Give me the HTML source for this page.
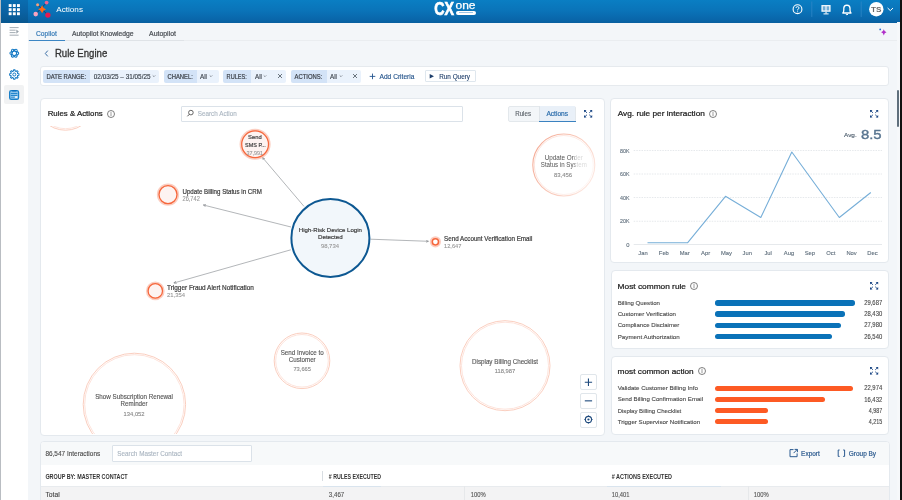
<!DOCTYPE html><html><head><meta charset="utf-8"><style>
html,body{margin:0;padding:0;}
body{width:902px;height:500px;overflow:hidden;position:relative;background:#f3f6f9;font-family:"Liberation Sans",sans-serif;color:#333;}
.r{position:absolute;box-sizing:border-box;}
svg{position:absolute;overflow:visible;}
</style></head><body>
<div class="r" style="left:0px;top:0px;width:902.00px;height:22.50px;background:linear-gradient(180deg,#0a7ec3 0%,#0a74b9 45%,#0966aa 85%,#085f9f 100%);"></div>
<div class="r" style="left:0px;top:0px;width:28.00px;height:22.50px;background:linear-gradient(180deg,#0a6db0 0%,#0a62a3 50%,#08578f 100%);"></div>
<svg style="left:0px;top:0px" width="28" height="22" viewBox="0 0 28 22"><rect x="8.70" y="4.10" width="2.9" height="2.9" fill="#fff"/><rect x="12.85" y="4.10" width="2.9" height="2.9" fill="#fff"/><rect x="17.00" y="4.10" width="2.9" height="2.9" fill="#fff"/><rect x="8.70" y="8.20" width="2.9" height="2.9" fill="#fff"/><rect x="12.85" y="8.20" width="2.9" height="2.9" fill="#fff"/><rect x="17.00" y="8.20" width="2.9" height="2.9" fill="#fff"/><rect x="8.70" y="12.30" width="2.9" height="2.9" fill="#fff"/><rect x="12.85" y="12.30" width="2.9" height="2.9" fill="#fff"/><rect x="17.00" y="12.30" width="2.9" height="2.9" fill="#fff"/></svg>
<svg style="left:28px;top:0px" width="30" height="22" viewBox="28 0 30 22"><g transform="translate(28,0)">
<line x1="9.6" y1="4.8" x2="19.9" y2="15.1" stroke="#1d3b6b" stroke-width="1"/>
<line x1="18.6" y1="2.6" x2="7.7" y2="14.1" stroke="#1d3b6b" stroke-width="1"/>
<circle cx="9.6" cy="4.8" r="1.5" fill="#f7a07a"/>
<circle cx="18.6" cy="2.6" r="1.9" fill="#f0648f"/>
<circle cx="7.7" cy="14.1" r="2.3" fill="#f7a3c0"/>
<circle cx="19.9" cy="15.1" r="2.7" fill="#e8194f"/>
<path d="M14.1 5.3 Q14.9 8.5 18.1 9.3 Q14.9 10.1 14.1 13.3 Q13.3 10.1 10.1 9.3 Q13.3 8.5 14.1 5.3Z" fill="#ff6a13"/></g></svg>
<div class="r" style="left:455.5px;top:10.5px;width:20.00px;height:4.70px;background:#fff;border-radius:2.4px;"></div>
<div class="r" style="left:458.5px;top:12.4px;width:14.00px;height:0.90px;background:#9cc4e4;"></div>
<svg style="left:780px;top:0px" width="122" height="22" viewBox="780 0 122 22"><g transform="translate(780,0)">
<circle cx="17.5" cy="9.2" r="4.4" fill="none" stroke="#fff" stroke-width="1.1"/>
<path d="M16 8 Q16 6.6 17.5 6.6 Q19 6.6 19 8 Q19 9 17.6 9.5 L17.6 10.4" fill="none" stroke="#fff" stroke-width="0.9"/>
<circle cx="17.6" cy="11.7" r="0.55" fill="#fff"/>
<line x1="31.8" y1="1.5" x2="31.8" y2="17" stroke="#2e88c8" stroke-width="0.8"/>
<rect x="41.4" y="5" width="9.2" height="6.8" fill="#fff" opacity="0.93"/>
<rect x="42.8" y="6.3" width="2.6" height="4.1" fill="#0a70b6" opacity="0.55"/>
<rect x="46.6" y="6.3" width="2.6" height="4.1" fill="#0a70b6" opacity="0.55"/>
<rect x="45.5" y="11.8" width="1.1" height="1.8" fill="#fff"/>
<rect x="43.5" y="13.4" width="5.1" height="1" fill="#fff"/>
<path d="M67 13 L62.8 13 Q63.8 12 63.8 10 L63.8 8.3 Q63.8 5.3 66.9 5.1 Q70 5.3 70 8.3 L70 10 Q70 12 71 13 Z" fill="none" stroke="#fff" stroke-width="1.3" stroke-linejoin="round"/>
<path d="M65.8 14.2 Q66.9 15.4 68 14.2" fill="none" stroke="#fff" stroke-width="1"/>
<line x1="81.2" y1="1.5" x2="81.2" y2="17" stroke="#2e88c8" stroke-width="0.8"/>
<circle cx="96.3" cy="9.2" r="7.2" fill="#fff"/>
<path d="M107.6 8 L110.3 10.6 L113 8" fill="none" stroke="#fff" stroke-width="1"/></g></svg>
<div class="r" style="left:0px;top:22.5px;width:28.00px;height:477.50px;background:#fff;"></div>
<div class="r" style="left:0px;top:0px;width:1.00px;height:500.00px;background:#b9bdc2;"></div>
<svg style="left:0px;top:22px" width="28" height="20" viewBox="0 22 28 20"><g transform="translate(0,22)" fill="#9aa3ab">
<rect x="9.6" y="5.2" width="9" height="0.9"/>
<rect x="9.6" y="7.7" width="6" height="0.9"/>
<rect x="9.6" y="10.2" width="6" height="0.9"/>
<rect x="9.6" y="12.7" width="9" height="0.9"/>
<path d="M16.3 7.5 L18.9 9.6 L16.3 11.7Z"/></g></svg>
<svg style="left:0px;top:43px" width="28" height="22" viewBox="0 43 28 22"><g transform="translate(14.3,53.2)" fill="none" stroke="#1479c4" stroke-width="1.05">
<ellipse rx="4.4" ry="2.0"/><ellipse rx="4.4" ry="2.0" transform="rotate(60)"/><ellipse rx="4.4" ry="2.0" transform="rotate(120)"/>
</g><circle cx="14.3" cy="53.2" r="1.5" fill="#fff"/></svg>
<svg style="left:0px;top:64px" width="28" height="22" viewBox="0 64 28 22"><g transform="translate(14.3,74.5)">
<path d="M3.37 -0.96 L4.65 -0.71 L4.65 0.71 L3.37 0.96 L3.06 1.71 L3.78 2.79 L2.79 3.78 L1.71 3.06 L0.96 3.37 L0.71 4.65 L-0.71 4.65 L-0.96 3.37 L-1.71 3.06 L-2.79 3.78 L-3.78 2.79 L-3.06 1.71 L-3.37 0.96 L-4.65 0.71 L-4.65 -0.71 L-3.37 -0.96 L-3.06 -1.71 L-3.78 -2.79 L-2.79 -3.78 L-1.71 -3.06 L-0.96 -3.37 L-0.71 -4.65 L0.71 -4.65 L0.96 -3.37 L1.71 -3.06 L2.79 -3.78 L3.78 -2.79 L3.06 -1.71Z" fill="none" stroke="#1479c4" stroke-width="1.05" stroke-linejoin="round"/>
<circle r="1.5" fill="none" stroke="#1479c4" stroke-width="1"/></g></svg>
<div class="r" style="left:3.9px;top:84.8px;width:19.80px;height:19.50px;background:#f1f2f3;border-radius:2px;"></div>
<svg style="left:0px;top:84px" width="28" height="22" viewBox="0 84 28 22">
<rect x="9.6" y="90.6" width="9.0" height="8.8" rx="1.6" fill="#8cc3ea" stroke="#1a80c9" stroke-width="1.2"/>
<rect x="12" y="89.9" width="4.6" height="1.5" rx="0.6" fill="#0b6fbf"/>
<rect x="10.8" y="93.1" width="6.6" height="0.9" fill="#1a80c9"/>
<rect x="10.8" y="95" width="6.6" height="0.9" fill="#1a80c9"/>
<rect x="10.8" y="96.9" width="3.8" height="0.9" fill="#4a9ad6"/>
<rect x="15.1" y="96.3" width="2.2" height="1.5" fill="#fff"/></svg>
<div class="r" style="left:28px;top:40.3px;width:872.00px;height:1.20px;background:#eaedf0;"></div>
<div class="r" style="left:28px;top:40.3px;width:156.00px;height:1.20px;background:#dfe3e7;"></div>
<div class="r" style="left:29px;top:40.2px;width:35.80px;height:1.30px;background:#3b86c4;"></div>
<svg style="left:870px;top:24px" width="20" height="16" viewBox="870 24 20 16"><circle cx="880.2" cy="29.4" r="0.9" fill="#2d6fd0"/>
<path d="M883.8 29.2 Q884.3 31.7 886.5 32.3 Q884.3 32.9 883.8 35.4 Q883.3 32.9 881.1 32.3 Q883.3 31.7 883.8 29.2Z" fill="#b02fc9"/></svg>
<svg style="left:42px;top:48px" width="10" height="12" viewBox="42 48 10 12"><path d="M47.8 50.6 L45.3 53.5 L47.8 56.4" fill="none" stroke="#3b6ea5" stroke-width="1"/></svg>
<div class="r" style="left:40px;top:66px;width:849.30px;height:19.60px;background:#fff;border:1px solid #e6eaee;border-radius:3px;"></div>
<div class="r" style="left:43.4px;top:70.1px;width:46.40px;height:12.60px;background:#d3e3f7;border-radius:2px 0 0 2px;"></div>
<div class="r" style="left:89.8px;top:70.1px;width:69.20px;height:12.60px;background:#eaf2fc;border-radius:0 2px 2px 0;"></div>
<svg style="left:152.4px;top:74px" width="6" height="5" viewBox="152.4 74 6 5"><path d="M153.1 75.4 L154.4 76.7 L155.70000000000002 75.4" fill="none" stroke="#6b737c" stroke-width="0.7"/></svg>
<div class="r" style="left:164px;top:70.1px;width:32.70px;height:12.60px;background:#d3e3f7;border-radius:2px 0 0 2px;"></div>
<div class="r" style="left:196.7px;top:70.1px;width:22.40px;height:12.60px;background:#eaf2fc;border-radius:0 2px 2px 0;"></div>
<svg style="left:208.8px;top:74px" width="6" height="5" viewBox="208.8 74 6 5"><path d="M209.5 75.4 L210.8 76.7 L212.10000000000002 75.4" fill="none" stroke="#6b737c" stroke-width="0.7"/></svg>
<div class="r" style="left:223.1px;top:70.1px;width:27.70px;height:12.60px;background:#d3e3f7;border-radius:2px 0 0 2px;"></div>
<div class="r" style="left:250.8px;top:70.1px;width:35.70px;height:12.60px;background:#eaf2fc;border-radius:0 2px 2px 0;"></div>
<svg style="left:263.3px;top:74px" width="6" height="5" viewBox="263.3 74 6 5"><path d="M264.0 75.4 L265.3 76.7 L266.6 75.4" fill="none" stroke="#6b737c" stroke-width="0.7"/></svg>
<svg style="left:277px;top:73.4px" width="6" height="6" viewBox="277 73.4 6 6"><path d="M278 74.4 L282 78.4 M282 74.4 L278 78.4" stroke="#4a5560" stroke-width="0.8"/></svg>
<div class="r" style="left:290.9px;top:70.1px;width:35.70px;height:12.60px;background:#d3e3f7;border-radius:2px 0 0 2px;"></div>
<div class="r" style="left:326.6px;top:70.1px;width:34.90px;height:12.60px;background:#eaf2fc;border-radius:0 2px 2px 0;"></div>
<svg style="left:338.6px;top:74px" width="6" height="5" viewBox="338.6 74 6 5"><path d="M339.3 75.4 L340.6 76.7 L341.90000000000003 75.4" fill="none" stroke="#6b737c" stroke-width="0.7"/></svg>
<svg style="left:352.3px;top:73.4px" width="6" height="6" viewBox="352.3 73.4 6 6"><path d="M353.3 74.4 L357.3 78.4 M357.3 74.4 L353.3 78.4" stroke="#4a5560" stroke-width="0.8"/></svg>
<svg style="left:368px;top:72px" width="9" height="9" viewBox="368 72 9 9"><path d="M372.5 73.6 V79.2 M369.7 76.4 H375.3" stroke="#24558f" stroke-width="0.9"/></svg>
<div class="r" style="left:425.2px;top:70.1px;width:50.60px;height:12.40px;background:#fff;border:1px solid #dfe7ee;border-radius:1px;"></div>
<svg style="left:429px;top:73px" width="6" height="7" viewBox="429 73 6 7"><path d="M429.7 74.1 L434 76.35 L429.7 78.6Z" fill="#1e3f6b"/></svg>
<div class="r" style="left:40px;top:98px;width:564.50px;height:337.80px;background:#fff;border:1px solid #e4e9ee;border-radius:4px;"></div>
<svg style="left:106px;top:108.5px" width="10" height="10" viewBox="106 108.5 10 10"><circle cx="111" cy="113.5" r="3.5" fill="none" stroke="#555" stroke-width="0.75"/><rect x="110.65" y="111.4" width="0.7" height="2.6" fill="#777"/><circle cx="111" cy="114.6" r="0.55" fill="#555"/></svg>
<div class="r" style="left:181.4px;top:105.6px;width:281.60px;height:16.00px;background:#fff;border:1px solid #dbe2e9;border-radius:1px;"></div>
<svg style="left:186px;top:109px" width="9" height="9" viewBox="186 109 9 9"><circle cx="190.9" cy="112.6" r="2.3" fill="none" stroke="#555" stroke-width="0.9"/><path d="M189.3 114.3 L187.4 116.3" stroke="#555" stroke-width="1"/></svg>
<div class="r" style="left:508.2px;top:105.5px;width:67.50px;height:16.50px;background:#f3f6f9;border:1px solid #e3e8ec;border-radius:2px;"></div>
<div class="r" style="left:538.9px;top:106px;width:36.30px;height:15.50px;background:#e9f0f8;"></div>
<div class="r" style="left:538.5px;top:106px;width:0.80px;height:15.50px;background:#e0e5ea;"></div>
<div class="r" style="left:538.9px;top:120.5px;width:36.80px;height:1.50px;background:#3a82c0;"></div>
<svg style="left:582.4px;top:107.8px" width="13" height="12" viewBox="582.4 107.8 13 12"><g fill="#1b4785" stroke="#1b4785" stroke-width="0.9" stroke-linecap="round"><path d="M584.40 109.80 L586.90 109.80 L584.40 112.30Z" stroke="none"/><path d="M585.30 110.70 L587.10 112.40" fill="none"/><path d="M592.60 109.80 L590.10 109.80 L592.60 112.30Z" stroke="none"/><path d="M591.70 110.70 L589.90 112.40" fill="none"/><path d="M584.40 117.40 L586.90 117.40 L584.40 114.90Z" stroke="none"/><path d="M585.30 116.50 L587.10 114.80" fill="none"/><path d="M592.60 117.40 L590.10 117.40 L592.60 114.90Z" stroke="none"/><path d="M591.70 116.50 L589.90 114.80" fill="none"/></g></svg>
<div style="position:absolute;left:41px;top:125.5px;width:563px;height:308.7px;overflow:hidden;"><svg style="left:-41px;top:-125.5px" width="902" height="500"><defs><marker id="arr" viewBox="0 0 6 6" refX="5.6" refY="3" markerWidth="4.6" markerHeight="4.6" orient="auto"><path d="M0.3 0.5 L5.7 3 L0.3 5.5" fill="none" stroke="#6f7378" stroke-width="1"/></marker></defs><line x1="304" y1="206.4" x2="262.6" y2="157.6" stroke="#8a8e93" stroke-width="0.65" marker-end="url(#arr)"/><line x1="291" y1="227" x2="203.4" y2="205" stroke="#8a8e93" stroke-width="0.65" marker-end="url(#arr)"/><line x1="290.8" y1="249.8" x2="173.8" y2="283" stroke="#8a8e93" stroke-width="0.65" marker-end="url(#arr)"/><line x1="370.4" y1="239.2" x2="428.4" y2="241.3" stroke="#8a8e93" stroke-width="0.65" marker-end="url(#arr)"/><circle cx="65.5" cy="100.3" r="29.9" fill="#fff" stroke="#f9c8b8" stroke-width="0.9"/><circle cx="65.5" cy="100.3" r="28.4" fill="none" stroke="#fcdcd2" stroke-width="0.8"/><defs><linearGradient id="rfade" gradientUnits="userSpaceOnUse" x1="532" y1="150" x2="596" y2="180"><stop offset="0" stop-color="#f4a993"/><stop offset="0.5" stop-color="#f9c9ba"/><stop offset="1" stop-color="#fdebe5"/></linearGradient></defs><circle cx="563.8" cy="165" r="31" fill="#fff" stroke="url(#rfade)" stroke-width="1.1"/><circle cx="563.8" cy="165" r="29.5" fill="none" stroke="url(#rfade)" stroke-width="0.6" opacity="0.6"/><circle cx="302" cy="360.8" r="27.8" fill="#fff" stroke="#f9c8b8" stroke-width="0.9"/><circle cx="302" cy="360.8" r="26.3" fill="none" stroke="#fcdcd2" stroke-width="0.8"/><circle cx="505" cy="365.7" r="45.0" fill="#fff" stroke="#f9c8b8" stroke-width="0.9"/><circle cx="505" cy="365.7" r="43.5" fill="none" stroke="#fcdcd2" stroke-width="0.8"/><circle cx="134.4" cy="404.4" r="51.2" fill="#fff" stroke="#f9c8b8" stroke-width="0.9"/><circle cx="134.4" cy="404.4" r="49.7" fill="none" stroke="#fcdcd2" stroke-width="0.8"/><circle cx="255.1" cy="144.3" r="14.3" fill="#fdf3f1" stroke="#f9ae98" stroke-opacity="0.6" stroke-width="2.5"/><circle cx="255.1" cy="144.3" r="13.4" fill="none" stroke="#f6673c" stroke-width="1.25"/><circle cx="168" cy="194.6" r="9.9" fill="#fdf3f1" stroke="#f9ae98" stroke-opacity="0.6" stroke-width="2.5"/><circle cx="168" cy="194.6" r="9.0" fill="none" stroke="#f6673c" stroke-width="1.25"/><circle cx="155.3" cy="290.9" r="8.1" fill="#fdf3f1" stroke="#f9ae98" stroke-opacity="0.6" stroke-width="2.5"/><circle cx="155.3" cy="290.9" r="7.199999999999999" fill="none" stroke="#f6673c" stroke-width="1.25"/><circle cx="435.4" cy="241.8" r="4.5" fill="none" stroke="#f9a48c" stroke-opacity="0.55" stroke-width="2.2"/><circle cx="435.4" cy="241.8" r="3.1" fill="#fff" stroke="#f6673c" stroke-width="1.5"/><circle cx="330.4" cy="238" r="39" fill="#f2f7fb" stroke="#0d5892" stroke-width="2"/></svg></div>
<div class="r" style="left:580.2px;top:374.3px;width:16.50px;height:15.90px;background:#fff;border:1px solid #e0e6eb;border-radius:2px;"></div>
<div class="r" style="left:580.2px;top:392.7px;width:16.50px;height:16.30px;background:#fff;border:1px solid #e0e6eb;border-radius:2px;"></div>
<div class="r" style="left:580.2px;top:411.5px;width:16.50px;height:16.00px;background:#fff;border:1px solid #e0e6eb;border-radius:2px;"></div>
<svg style="left:580px;top:374px" width="17" height="54" viewBox="580 374 17 54"><g stroke="#1e4a7d" stroke-width="1.1" fill="none"><path d="M588.45 378.6 V385.9 M584.8 382.25 H592.1"/><path d="M584.8 400.85 H592.1"/><circle cx="588.45" cy="419.5" r="3.1"/></g><circle cx="588.45" cy="419.5" r="1.1" fill="#1e4a7d"/><path d="M588.45 415.3 V416.6 M588.45 422.4 V423.7 M584.25 419.5 H585.55 M591.35 419.5 H592.65" stroke="#1e4a7d" stroke-width="0.8"/></svg>
<div class="r" style="left:610.2px;top:98.3px;width:278.80px;height:164.90px;background:#fff;border:1px solid #e4e9ee;border-radius:4px;"></div>
<svg style="left:708px;top:108.8px" width="10" height="10" viewBox="708 108.8 10 10"><circle cx="713" cy="113.8" r="3.5" fill="none" stroke="#555" stroke-width="0.75"/><rect x="712.65" y="111.7" width="0.7" height="2.6" fill="#777"/><circle cx="713" cy="114.89999999999999" r="0.55" fill="#555"/></svg>
<svg style="left:867.6px;top:107.6px" width="13" height="12" viewBox="867.6 107.6 13 12"><g fill="#1b4785" stroke="#1b4785" stroke-width="0.9" stroke-linecap="round"><path d="M869.60 109.60 L872.10 109.60 L869.60 112.10Z" stroke="none"/><path d="M870.50 110.50 L872.30 112.20" fill="none"/><path d="M877.80 109.60 L875.30 109.60 L877.80 112.10Z" stroke="none"/><path d="M876.90 110.50 L875.10 112.20" fill="none"/><path d="M869.60 117.20 L872.10 117.20 L869.60 114.70Z" stroke="none"/><path d="M870.50 116.30 L872.30 114.60" fill="none"/><path d="M877.80 117.20 L875.30 117.20 L877.80 114.70Z" stroke="none"/><path d="M876.90 116.30 L875.10 114.60" fill="none"/></g></svg>
<svg style="left:600px;top:140px" width="290" height="110" viewBox="600 140 290 110"><line x1="633.7" y1="150.5" x2="882" y2="150.5" stroke="#dfe3e7" stroke-width="0.8" stroke-dasharray="1.5 1.1"/><line x1="633.7" y1="174" x2="882" y2="174" stroke="#dfe3e7" stroke-width="0.8" stroke-dasharray="1.5 1.1"/><line x1="633.7" y1="197.5" x2="882" y2="197.5" stroke="#dfe3e7" stroke-width="0.8" stroke-dasharray="1.5 1.1"/><line x1="633.7" y1="221.25" x2="882" y2="221.25" stroke="#dfe3e7" stroke-width="0.8" stroke-dasharray="1.5 1.1"/><line x1="633.7" y1="244.5" x2="882" y2="244.5" stroke="#e6e9ec" stroke-width="1"/><polyline points="647.5,242.8 687.5,242.8 725.5,196.3 760.8,217.5 791.8,152 839.3,217.5 870.8,192.5" fill="none" stroke="#76aed8" stroke-width="1.1" stroke-linejoin="round"/></svg>
<div class="r" style="left:610.8px;top:270.4px;width:278.20px;height:78.60px;background:#fff;border:1px solid #e4e9ee;border-radius:4px;"></div>
<svg style="left:689px;top:280.8px" width="10" height="10" viewBox="689 280.8 10 10"><circle cx="694" cy="285.8" r="3.5" fill="none" stroke="#555" stroke-width="0.75"/><rect x="693.65" y="283.7" width="0.7" height="2.6" fill="#777"/><circle cx="694" cy="286.90000000000003" r="0.55" fill="#555"/></svg>
<svg style="left:867.8px;top:279.6px" width="13" height="12" viewBox="867.8 279.6 13 12"><g fill="#1b4785" stroke="#1b4785" stroke-width="0.9" stroke-linecap="round"><path d="M869.80 281.60 L872.30 281.60 L869.80 284.10Z" stroke="none"/><path d="M870.70 282.50 L872.50 284.20" fill="none"/><path d="M878.00 281.60 L875.50 281.60 L878.00 284.10Z" stroke="none"/><path d="M877.10 282.50 L875.30 284.20" fill="none"/><path d="M869.80 289.20 L872.30 289.20 L869.80 286.70Z" stroke="none"/><path d="M870.70 288.30 L872.50 286.60" fill="none"/><path d="M878.00 289.20 L875.50 289.20 L878.00 286.70Z" stroke="none"/><path d="M877.10 288.30 L875.30 286.60" fill="none"/></g></svg>
<div class="r" style="left:715.2px;top:300.2px;width:140.10px;height:5.40px;background:#0a72b8;border-radius:2.7px;"></div>
<div class="r" style="left:715.2px;top:311.40000000000003px;width:129.70px;height:5.40px;background:#0a72b8;border-radius:2.7px;"></div>
<div class="r" style="left:715.2px;top:322.5px;width:125.80px;height:5.40px;background:#0a72b8;border-radius:2.7px;"></div>
<div class="r" style="left:715.2px;top:333.8px;width:116.80px;height:5.40px;background:#0a72b8;border-radius:2.7px;"></div>
<div class="r" style="left:610.8px;top:356px;width:278.20px;height:79.10px;background:#fff;border:1px solid #e4e9ee;border-radius:4px;"></div>
<svg style="left:696.5px;top:365.9px" width="10" height="10" viewBox="696.5 365.9 10 10"><circle cx="701.5" cy="370.9" r="3.5" fill="none" stroke="#555" stroke-width="0.75"/><rect x="701.15" y="368.79999999999995" width="0.7" height="2.6" fill="#777"/><circle cx="701.5" cy="372.0" r="0.55" fill="#555"/></svg>
<svg style="left:867.8px;top:364.7px" width="13" height="12" viewBox="867.8 364.7 13 12"><g fill="#1b4785" stroke="#1b4785" stroke-width="0.9" stroke-linecap="round"><path d="M869.80 366.70 L872.30 366.70 L869.80 369.20Z" stroke="none"/><path d="M870.70 367.60 L872.50 369.30" fill="none"/><path d="M878.00 366.70 L875.50 366.70 L878.00 369.20Z" stroke="none"/><path d="M877.10 367.60 L875.30 369.30" fill="none"/><path d="M869.80 374.30 L872.30 374.30 L869.80 371.80Z" stroke="none"/><path d="M870.70 373.40 L872.50 371.70" fill="none"/><path d="M878.00 374.30 L875.50 374.30 L878.00 371.80Z" stroke="none"/><path d="M877.10 373.40 L875.30 371.70" fill="none"/></g></svg>
<div class="r" style="left:715.2px;top:385.55px;width:137.50px;height:5.40px;background:#fd5a24;border-radius:2.7px;"></div>
<div class="r" style="left:715.2px;top:396.75px;width:109.50px;height:5.40px;background:#fd5a24;border-radius:2.7px;"></div>
<div class="r" style="left:715.2px;top:407.95px;width:53.20px;height:5.40px;background:#fd5a24;border-radius:2.7px;"></div>
<div class="r" style="left:715.2px;top:419.1px;width:53.20px;height:5.40px;background:#fd5a24;border-radius:2.7px;"></div>
<div class="r" style="left:40px;top:441px;width:849.50px;height:79.00px;background:#fff;border:1px solid #e4e9ee;border-radius:4px;overflow:hidden;"></div>
<div class="r" style="left:41px;top:442px;width:847.50px;height:22.70px;background:#f7f9fa;border-radius:3px 3px 0 0;"></div>
<div class="r" style="left:112.3px;top:445.4px;width:140.20px;height:16.30px;background:#fff;border:1px solid #dbe2e9;border-radius:1px;"></div>
<svg style="left:788px;top:448px" width="11" height="10" viewBox="788 448 11 10"><path d="M793.5 449.6 H790 V456.7 H797.1 V453.4" fill="none" stroke="#2a5a90" stroke-width="1"/><path d="M793.6 453.1 L797.3 449.4 M794.6 449.4 H797.4 V452.2" fill="none" stroke="#2a5a90" stroke-width="1"/></svg>
<svg style="left:836px;top:448px" width="11" height="10" viewBox="836 448 11 10"><path d="M839.6 450 H838.2 V456.4 H839.6 M843.2 450 H844.6 V456.4 H843.2" fill="none" stroke="#2a5a90" stroke-width="1"/></svg>
<div class="r" style="left:41px;top:464.7px;width:847.50px;height:21.30px;background:#fff;"></div>
<div class="r" style="left:322.2px;top:470.6px;width:0.80px;height:10.40px;background:#d8dde2;"></div>
<div class="r" style="left:41px;top:486px;width:847.50px;height:14.00px;background:#f3f3f4;"></div>
<div class="r" style="left:41px;top:485.6px;width:847.50px;height:0.80px;background:#e8ebee;"></div>
<div class="r" style="left:322.5px;top:485.6px;width:58.50px;height:0.80px;background:#d9e4ee;"></div>
<div class="r" style="left:606.8px;top:485.6px;width:114.70px;height:0.80px;background:#d9e4ee;"></div>
<div class="r" style="left:463.8px;top:486px;width:0.80px;height:14.00px;background:#e6e8ea;"></div>
<div class="r" style="left:748px;top:486px;width:0.80px;height:14.00px;background:#e6e8ea;"></div>
<div class="r" style="left:896.5px;top:22px;width:3.50px;height:478.00px;background:#f6f8fa;"></div>
<div class="r" style="left:897px;top:90.4px;width:2.20px;height:36.80px;background:#5f6f7c;border-radius:1px;"></div>
<div class="r" style="left:900px;top:0px;width:2.00px;height:500.00px;background:#111;"></div>
<svg style="left:0;top:0;will-change:transform" width="902" height="500" font-family="Liberation Sans"><text x="56.20" y="11.91" font-size="7.7" font-weight="400" fill="#fff" text-anchor="start" textLength="26.8" lengthAdjust="spacingAndGlyphs">Actions</text><text x="434.30" y="15.12" font-size="17.6" font-weight="700" fill="#fff" text-anchor="start" textLength="19.8" lengthAdjust="spacingAndGlyphs" stroke="#fff" stroke-width="0.7">CX</text><text x="455.50" y="9.22" font-size="10.2" font-weight="400" fill="#fff" text-anchor="start" textLength="20" lengthAdjust="spacingAndGlyphs" stroke="#fff" stroke-width="0.25">one</text><text x="876.30" y="11.82" font-size="7.6" font-weight="700" fill="#6a6a6a" text-anchor="middle" textLength="10.5" lengthAdjust="spacingAndGlyphs">TS</text><text x="36.00" y="35.62" font-size="7.6" font-weight="400" fill="#3a7db8" text-anchor="start" textLength="20.8" lengthAdjust="spacingAndGlyphs" stroke="#3a7db8" stroke-width="0.23">Copilot</text><text x="72.00" y="35.62" font-size="7.6" font-weight="400" fill="#4a4f55" text-anchor="start" textLength="61.6" lengthAdjust="spacingAndGlyphs" stroke="#4a4f55" stroke-width="0.23">Autopilot Knowledge</text><text x="149.00" y="35.62" font-size="7.6" font-weight="400" fill="#4a4f55" text-anchor="start" textLength="27" lengthAdjust="spacingAndGlyphs" stroke="#4a4f55" stroke-width="0.23">Autopilot</text><text x="54.90" y="57.46" font-size="10.6" font-weight="400" fill="#333" text-anchor="start" textLength="52.4" lengthAdjust="spacingAndGlyphs" stroke="#333" stroke-width="0.32">Rule Engine</text><text x="46.60" y="78.73" font-size="6.9" font-weight="400" fill="#3a3f46" text-anchor="start" textLength="39.5" lengthAdjust="spacingAndGlyphs" stroke="#3a3f46" stroke-width="0.21">DATE RANGE:</text><text x="93.80" y="78.80" font-size="7.1" font-weight="400" fill="#3a424b" text-anchor="start" textLength="56.7" lengthAdjust="spacingAndGlyphs" stroke="#3a424b" stroke-width="0.15">02/03/25 – 31/05/25</text><text x="167.50" y="78.73" font-size="6.9" font-weight="400" fill="#3a3f46" text-anchor="start" textLength="25.4" lengthAdjust="spacingAndGlyphs" stroke="#3a3f46" stroke-width="0.21">CHANEL:</text><text x="200.00" y="78.80" font-size="7.1" font-weight="400" fill="#3a424b" text-anchor="start" textLength="7" lengthAdjust="spacingAndGlyphs" stroke="#3a424b" stroke-width="0.15">All</text><text x="226.60" y="78.73" font-size="6.9" font-weight="400" fill="#3a3f46" text-anchor="start" textLength="20.3" lengthAdjust="spacingAndGlyphs" stroke="#3a3f46" stroke-width="0.21">RULES:</text><text x="255.10" y="78.80" font-size="7.1" font-weight="400" fill="#3a424b" text-anchor="start" textLength="6.9" lengthAdjust="spacingAndGlyphs" stroke="#3a424b" stroke-width="0.15">All</text><text x="294.50" y="78.73" font-size="6.9" font-weight="400" fill="#3a3f46" text-anchor="start" textLength="27.8" lengthAdjust="spacingAndGlyphs" stroke="#3a3f46" stroke-width="0.21">ACTIONS:</text><text x="330.10" y="78.80" font-size="7.1" font-weight="400" fill="#3a424b" text-anchor="start" textLength="6.9" lengthAdjust="spacingAndGlyphs" stroke="#3a424b" stroke-width="0.15">All</text><text x="379.50" y="78.63" font-size="6.6" font-weight="400" fill="#22528a" text-anchor="start" textLength="35" lengthAdjust="spacingAndGlyphs" stroke="#22528a" stroke-width="0.12">Add Criteria</text><text x="439.20" y="78.51" font-size="6.4" font-weight="400" fill="#23426d" text-anchor="start" textLength="30.8" lengthAdjust="spacingAndGlyphs" stroke="#23426d" stroke-width="0.12">Run Query</text><text x="47.70" y="116.30" font-size="7.4" font-weight="400" fill="#222" text-anchor="start" textLength="55" lengthAdjust="spacingAndGlyphs" stroke="#222" stroke-width="0.22">Rules &amp; Actions</text><text x="197.80" y="115.91" font-size="6.4" font-weight="400" fill="#aab5c0" text-anchor="start" textLength="38.9" lengthAdjust="spacingAndGlyphs" stroke="#aab5c0" stroke-width="0.12">Search Action</text><text x="515.20" y="115.92" font-size="6.3" font-weight="400" fill="#5a6068" text-anchor="start" textLength="15.8" lengthAdjust="spacingAndGlyphs" stroke="#5a6068" stroke-width="0.12">Rules</text><text x="546.40" y="115.92" font-size="6.3" font-weight="400" fill="#2a6cab" text-anchor="start" textLength="21.7" lengthAdjust="spacingAndGlyphs" stroke="#2a6cab" stroke-width="0.19">Actions</text><text x="254.85" y="139.07" font-size="6.0" font-weight="400" fill="#3a3a3a" text-anchor="middle" textLength="13.5" lengthAdjust="spacingAndGlyphs" stroke="#3a3a3a" stroke-width="0.18">Send</text><text x="255.45" y="146.54" font-size="6.2" font-weight="400" fill="#3a3a3a" text-anchor="middle" textLength="20.9" lengthAdjust="spacingAndGlyphs" stroke="#3a3a3a" stroke-width="0.19">SMS P...</text><text x="254.70" y="155.17" font-size="6.0" font-weight="400" fill="#9a9a9a" text-anchor="middle" textLength="16.6" lengthAdjust="spacingAndGlyphs" stroke="#9a9a9a" stroke-width="0.12">37,991</text><text x="182.50" y="193.62" font-size="6.3" font-weight="400" fill="#3a3a3a" text-anchor="start" textLength="79.3" lengthAdjust="spacingAndGlyphs" stroke="#3a3a3a" stroke-width="0.19">Update Billing Status in CRM</text><text x="182.50" y="200.62" font-size="6.3" font-weight="400" fill="#999" text-anchor="start" textLength="17.3" lengthAdjust="spacingAndGlyphs" stroke="#999" stroke-width="0.12">26,742</text><text x="330.35" y="231.95" font-size="6.1" font-weight="400" fill="#3a3a3a" text-anchor="middle" textLength="63.1" lengthAdjust="spacingAndGlyphs" stroke="#3a3a3a" stroke-width="0.18">High-Risk Device Login</text><text x="330.35" y="239.30" font-size="6.1" font-weight="400" fill="#3a3a3a" text-anchor="middle" textLength="24.7" lengthAdjust="spacingAndGlyphs" stroke="#3a3a3a" stroke-width="0.18">Detected</text><text x="329.95" y="248.47" font-size="6.0" font-weight="400" fill="#999" text-anchor="middle" textLength="18.1" lengthAdjust="spacingAndGlyphs" stroke="#999" stroke-width="0.12">98,734</text><text x="444.00" y="240.72" font-size="6.3" font-weight="400" fill="#3a3a3a" text-anchor="start" textLength="88.3" lengthAdjust="spacingAndGlyphs" stroke="#3a3a3a" stroke-width="0.19">Send Account Verification Email</text><text x="444.00" y="248.07" font-size="6.0" font-weight="400" fill="#999" text-anchor="start" textLength="17.4" lengthAdjust="spacingAndGlyphs" stroke="#999" stroke-width="0.12">12,647</text><text x="167.00" y="290.11" font-size="6.4" font-weight="400" fill="#3a3a3a" text-anchor="start" textLength="86.9" lengthAdjust="spacingAndGlyphs" stroke="#3a3a3a" stroke-width="0.19">Trigger Fraud Alert Notification</text><text x="167.00" y="297.47" font-size="6.0" font-weight="400" fill="#999" text-anchor="start" textLength="18" lengthAdjust="spacingAndGlyphs" stroke="#999" stroke-width="0.12">21,354</text><defs><linearGradient id="tfade" gradientUnits="userSpaceOnUse" x1="530" y1="0" x2="600" y2="0"><stop offset="0" stop-color="#555"/><stop offset="0.615" stop-color="#555"/><stop offset="0.665" stop-color="#d4d4d4"/><stop offset="1" stop-color="#e6e6e6"/></linearGradient></defs><text x="563.80" y="159.87" font-size="6.3" font-weight="400" fill="url(#tfade)" text-anchor="middle" textLength="38.3" lengthAdjust="spacingAndGlyphs">Update Order</text><text x="563.80" y="167.47" font-size="6.3" font-weight="400" fill="url(#tfade)" text-anchor="middle" textLength="46" lengthAdjust="spacingAndGlyphs">Status in System</text><text x="563.00" y="176.87" font-size="6.0" font-weight="400" fill="#8a8a8a" text-anchor="middle" textLength="18.2" lengthAdjust="spacingAndGlyphs" stroke="#8a8a8a" stroke-width="0.12">83,456</text><text x="302.20" y="354.67" font-size="6.3" font-weight="400" fill="#555" text-anchor="middle" textLength="43" lengthAdjust="spacingAndGlyphs" stroke="#555" stroke-width="0.12">Send Invoice to</text><text x="302.20" y="362.17" font-size="6.3" font-weight="400" fill="#555" text-anchor="middle" textLength="27" lengthAdjust="spacingAndGlyphs" stroke="#555" stroke-width="0.12">Customer</text><text x="302.20" y="371.37" font-size="6.0" font-weight="400" fill="#8a8a8a" text-anchor="middle" textLength="17.5" lengthAdjust="spacingAndGlyphs" stroke="#8a8a8a" stroke-width="0.12">73,665</text><text x="505.00" y="363.87" font-size="6.3" font-weight="400" fill="#555" text-anchor="middle" textLength="66" lengthAdjust="spacingAndGlyphs" stroke="#555" stroke-width="0.12">Display Billing Checklist</text><text x="505.00" y="373.27" font-size="6.0" font-weight="400" fill="#8a8a8a" text-anchor="middle" textLength="20.5" lengthAdjust="spacingAndGlyphs" stroke="#8a8a8a" stroke-width="0.12">118,987</text><text x="134.10" y="398.87" font-size="6.3" font-weight="400" fill="#555" text-anchor="middle" textLength="77.8" lengthAdjust="spacingAndGlyphs" stroke="#555" stroke-width="0.12">Show Subscription Renewal</text><text x="134.10" y="406.17" font-size="6.3" font-weight="400" fill="#555" text-anchor="middle" textLength="27" lengthAdjust="spacingAndGlyphs" stroke="#555" stroke-width="0.12">Reminder</text><text x="134.10" y="415.57" font-size="6.0" font-weight="400" fill="#8a8a8a" text-anchor="middle" textLength="21" lengthAdjust="spacingAndGlyphs" stroke="#8a8a8a" stroke-width="0.12">134,052</text><text x="617.70" y="116.06" font-size="7.7" font-weight="400" fill="#222" text-anchor="start" textLength="87.2" lengthAdjust="spacingAndGlyphs" stroke="#222" stroke-width="0.23">Avg. rule per interaction</text><text x="844.00" y="137.34" font-size="6.2" font-weight="400" fill="#4a5a6a" text-anchor="start" textLength="12.7" lengthAdjust="spacingAndGlyphs" stroke="#4a5a6a" stroke-width="0.12">Avg.</text><text x="860.90" y="139.49" font-size="13.6" font-weight="400" fill="#587590" text-anchor="start" textLength="20.7" lengthAdjust="spacingAndGlyphs" stroke="#587590" stroke-width="0.41">8.5</text><text x="629.50" y="152.50" font-size="5.8" font-weight="400" fill="#5f6e7c" text-anchor="end" textLength="9.5" lengthAdjust="spacingAndGlyphs" stroke="#5f6e7c" stroke-width="0.12">80K</text><text x="629.50" y="176.00" font-size="5.8" font-weight="400" fill="#5f6e7c" text-anchor="end" textLength="9.5" lengthAdjust="spacingAndGlyphs" stroke="#5f6e7c" stroke-width="0.12">60K</text><text x="629.50" y="199.50" font-size="5.8" font-weight="400" fill="#5f6e7c" text-anchor="end" textLength="9.5" lengthAdjust="spacingAndGlyphs" stroke="#5f6e7c" stroke-width="0.12">40K</text><text x="629.50" y="223.25" font-size="5.8" font-weight="400" fill="#5f6e7c" text-anchor="end" textLength="9.5" lengthAdjust="spacingAndGlyphs" stroke="#5f6e7c" stroke-width="0.12">20K</text><text x="629.50" y="246.50" font-size="5.8" font-weight="400" fill="#5f6e7c" text-anchor="end" stroke="#5f6e7c" stroke-width="0.12">0</text><text x="643.00" y="255.00" font-size="5.8" font-weight="400" fill="#5f6e7c" text-anchor="middle" stroke="#5f6e7c" stroke-width="0.12">Jan</text><text x="663.86" y="255.00" font-size="5.8" font-weight="400" fill="#5f6e7c" text-anchor="middle" stroke="#5f6e7c" stroke-width="0.12">Feb</text><text x="684.72" y="255.00" font-size="5.8" font-weight="400" fill="#5f6e7c" text-anchor="middle" stroke="#5f6e7c" stroke-width="0.12">Mar</text><text x="705.58" y="255.00" font-size="5.8" font-weight="400" fill="#5f6e7c" text-anchor="middle" stroke="#5f6e7c" stroke-width="0.12">Apr</text><text x="726.44" y="255.00" font-size="5.8" font-weight="400" fill="#5f6e7c" text-anchor="middle" stroke="#5f6e7c" stroke-width="0.12">May</text><text x="747.30" y="255.00" font-size="5.8" font-weight="400" fill="#5f6e7c" text-anchor="middle" stroke="#5f6e7c" stroke-width="0.12">Jun</text><text x="768.16" y="255.00" font-size="5.8" font-weight="400" fill="#5f6e7c" text-anchor="middle" stroke="#5f6e7c" stroke-width="0.12">Jul</text><text x="789.02" y="255.00" font-size="5.8" font-weight="400" fill="#5f6e7c" text-anchor="middle" stroke="#5f6e7c" stroke-width="0.12">Aug</text><text x="809.88" y="255.00" font-size="5.8" font-weight="400" fill="#5f6e7c" text-anchor="middle" stroke="#5f6e7c" stroke-width="0.12">Sep</text><text x="830.74" y="255.00" font-size="5.8" font-weight="400" fill="#5f6e7c" text-anchor="middle" stroke="#5f6e7c" stroke-width="0.12">Oct</text><text x="851.60" y="255.00" font-size="5.8" font-weight="400" fill="#5f6e7c" text-anchor="middle" stroke="#5f6e7c" stroke-width="0.12">Nov</text><text x="872.46" y="255.00" font-size="5.8" font-weight="400" fill="#5f6e7c" text-anchor="middle" stroke="#5f6e7c" stroke-width="0.12">Dec</text><text x="617.60" y="288.76" font-size="7.7" font-weight="400" fill="#222" text-anchor="start" textLength="68.4" lengthAdjust="spacingAndGlyphs" stroke="#222" stroke-width="0.23">Most common rule</text><text x="617.70" y="304.94" font-size="5.9" font-weight="400" fill="#4a4a4a" text-anchor="start" textLength="42.3" lengthAdjust="spacingAndGlyphs" stroke="#4a4a4a" stroke-width="0.12">Billing Question</text><text x="882.20" y="305.07" font-size="6.3" font-weight="400" fill="#4a4a4a" text-anchor="end" textLength="18" lengthAdjust="spacingAndGlyphs" stroke="#4a4a4a" stroke-width="0.12">29,687</text><text x="617.70" y="316.14" font-size="5.9" font-weight="400" fill="#4a4a4a" text-anchor="start" textLength="58.3" lengthAdjust="spacingAndGlyphs" stroke="#4a4a4a" stroke-width="0.12">Customer Verification</text><text x="882.20" y="316.27" font-size="6.3" font-weight="400" fill="#4a4a4a" text-anchor="end" textLength="18" lengthAdjust="spacingAndGlyphs" stroke="#4a4a4a" stroke-width="0.12">28,430</text><text x="617.70" y="327.24" font-size="5.9" font-weight="400" fill="#4a4a4a" text-anchor="start" textLength="61.6" lengthAdjust="spacingAndGlyphs" stroke="#4a4a4a" stroke-width="0.12">Compliance Disclaimer</text><text x="882.20" y="327.37" font-size="6.3" font-weight="400" fill="#4a4a4a" text-anchor="end" textLength="18" lengthAdjust="spacingAndGlyphs" stroke="#4a4a4a" stroke-width="0.12">27,980</text><text x="617.70" y="338.54" font-size="5.9" font-weight="400" fill="#4a4a4a" text-anchor="start" textLength="62.1" lengthAdjust="spacingAndGlyphs" stroke="#4a4a4a" stroke-width="0.12">Payment Authorization</text><text x="882.20" y="338.67" font-size="6.3" font-weight="400" fill="#4a4a4a" text-anchor="end" textLength="18" lengthAdjust="spacingAndGlyphs" stroke="#4a4a4a" stroke-width="0.12">26,540</text><text x="617.60" y="373.86" font-size="7.7" font-weight="400" fill="#222" text-anchor="start" textLength="76.1" lengthAdjust="spacingAndGlyphs" stroke="#222" stroke-width="0.23">most common action</text><text x="617.70" y="390.29" font-size="5.9" font-weight="400" fill="#4a4a4a" text-anchor="start" textLength="80.2" lengthAdjust="spacingAndGlyphs" stroke="#4a4a4a" stroke-width="0.12">Validate Customer Billing Info</text><text x="882.20" y="390.42" font-size="6.3" font-weight="400" fill="#4a4a4a" text-anchor="end" textLength="18" lengthAdjust="spacingAndGlyphs" stroke="#4a4a4a" stroke-width="0.12">22,974</text><text x="617.70" y="401.49" font-size="5.9" font-weight="400" fill="#4a4a4a" text-anchor="start" textLength="85.4" lengthAdjust="spacingAndGlyphs" stroke="#4a4a4a" stroke-width="0.12">Send Billing Confirmation Email</text><text x="882.20" y="401.62" font-size="6.3" font-weight="400" fill="#4a4a4a" text-anchor="end" textLength="18" lengthAdjust="spacingAndGlyphs" stroke="#4a4a4a" stroke-width="0.12">16,432</text><text x="617.70" y="412.69" font-size="5.9" font-weight="400" fill="#4a4a4a" text-anchor="start" textLength="63.6" lengthAdjust="spacingAndGlyphs" stroke="#4a4a4a" stroke-width="0.12">Display Billing Checklist</text><text x="882.20" y="412.82" font-size="6.3" font-weight="400" fill="#4a4a4a" text-anchor="end" textLength="13.5" lengthAdjust="spacingAndGlyphs" stroke="#4a4a4a" stroke-width="0.12">4,987</text><text x="617.70" y="423.84" font-size="5.9" font-weight="400" fill="#4a4a4a" text-anchor="start" textLength="82.4" lengthAdjust="spacingAndGlyphs" stroke="#4a4a4a" stroke-width="0.12">Trigger Supervisor Notification</text><text x="882.20" y="423.97" font-size="6.3" font-weight="400" fill="#4a4a4a" text-anchor="end" textLength="13.5" lengthAdjust="spacingAndGlyphs" stroke="#4a4a4a" stroke-width="0.12">4,215</text><text x="45.40" y="455.73" font-size="6.6" font-weight="400" fill="#4a4a4a" text-anchor="start" textLength="54.8" lengthAdjust="spacingAndGlyphs" stroke="#4a4a4a" stroke-width="0.12">86,547 Interactions</text><text x="117.30" y="455.81" font-size="6.4" font-weight="400" fill="#aab5c0" text-anchor="start" textLength="64.8" lengthAdjust="spacingAndGlyphs" stroke="#aab5c0" stroke-width="0.12">Search Master Contact</text><text x="801.10" y="455.98" font-size="6.6" font-weight="400" fill="#2d5b8f" text-anchor="start" textLength="18.7" lengthAdjust="spacingAndGlyphs" stroke="#2d5b8f" stroke-width="0.20">Export</text><text x="848.80" y="455.98" font-size="6.6" font-weight="400" fill="#2d5b8f" text-anchor="start" textLength="27.3" lengthAdjust="spacingAndGlyphs" stroke="#2d5b8f" stroke-width="0.20">Group By</text><text x="45.40" y="478.87" font-size="6.3" font-weight="700" fill="#333" text-anchor="start" textLength="82.3" lengthAdjust="spacingAndGlyphs">GROUP BY: MASTER CONTACT</text><text x="328.80" y="478.87" font-size="6.3" font-weight="700" fill="#333" text-anchor="start" textLength="52.2" lengthAdjust="spacingAndGlyphs"># RULES EXECUTED</text><text x="611.70" y="478.87" font-size="6.3" font-weight="700" fill="#333" text-anchor="start" textLength="60.3" lengthAdjust="spacingAndGlyphs"># ACTIONS EXECUTED</text><text x="45.40" y="497.40" font-size="7.4" font-weight="400" fill="#444" text-anchor="start" textLength="14.3" lengthAdjust="spacingAndGlyphs" stroke="#444" stroke-width="0.12">Total</text><text x="328.80" y="497.08" font-size="6.6" font-weight="400" fill="#555" text-anchor="start" textLength="15.5" lengthAdjust="spacingAndGlyphs" stroke="#555" stroke-width="0.12">3,467</text><text x="470.70" y="497.08" font-size="6.6" font-weight="400" fill="#555" text-anchor="start" textLength="15" lengthAdjust="spacingAndGlyphs" stroke="#555" stroke-width="0.12">100%</text><text x="611.70" y="497.08" font-size="6.6" font-weight="400" fill="#555" text-anchor="start" textLength="17.8" lengthAdjust="spacingAndGlyphs" stroke="#555" stroke-width="0.12">10,401</text><text x="753.70" y="497.08" font-size="6.6" font-weight="400" fill="#555" text-anchor="start" textLength="15" lengthAdjust="spacingAndGlyphs" stroke="#555" stroke-width="0.12">100%</text></svg>
</body></html>
